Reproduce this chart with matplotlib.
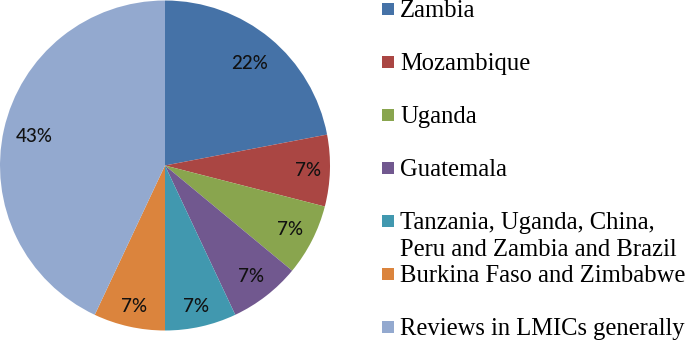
import numpy as np
import matplotlib
matplotlib.use("Agg")
import matplotlib.pyplot as plt
from matplotlib.patches import Rectangle

categories = ["Zambia", "Mozambique", "Uganda", "Guatemala",
              "Tanzania, Uganda, China,\nPeru and Zambia and Brazil",
              "Burkina Faso and Zimbabwe", "Reviews in LMICs generally"]
values = [22, 7, 7, 7, 7, 7, 43]
colors = ["#4572A7", "#AA4643", "#89A54E", "#71588F", "#4198AF", "#DB843D", "#93A9CF"]
label_dist = [0.80, 0.87, 0.85, 0.855, 0.875, 0.875, 0.81]

W, H = 685, 341
fig = plt.figure(figsize=(W / 100, H / 100), dpi=100)

# pie axes
ax = fig.add_axes([0 / W, 10.5 / H, 330 / W, 330 / H])
wedges, _ = ax.pie(values, colors=colors, startangle=90, counterclock=False,
                   radius=1.0, wedgeprops=dict(linewidth=0))
ax.set_xlim(-1, 1)
ax.set_ylim(-1, 1)
ax.set_aspect("equal")
ax.axis("off")

for w, v, d in zip(wedges, values, label_dist):
    th = np.deg2rad((w.theta1 + w.theta2) / 2)
    ax.text(d * np.cos(th), d * np.sin(th), f"{v}%", ha="center", va="center",
            fontsize=13.5, family="Lato", fontweight="medium", color="#111111")

# legend drawn manually
base0 = 17
step = 53
for i, (lab, c) in enumerate(zip(categories, colors)):
    base = base0 + step * i
    sq_c = base - 8
    fig.patches.append(Rectangle((382 / W, (H - sq_c - 6) / H), 12 / W, 12 / H,
                                 transform=fig.transFigure, facecolor=c,
                                 edgecolor="none"))
    for j, line in enumerate(lab.split("\n")):
        fig.text(400 / W, (H - (base + 27 * j)) / H, line, ha="left", va="baseline",
                 fontsize=17.7, family="Liberation Serif", color="black")

fig.savefig("out.png", dpi=100)
